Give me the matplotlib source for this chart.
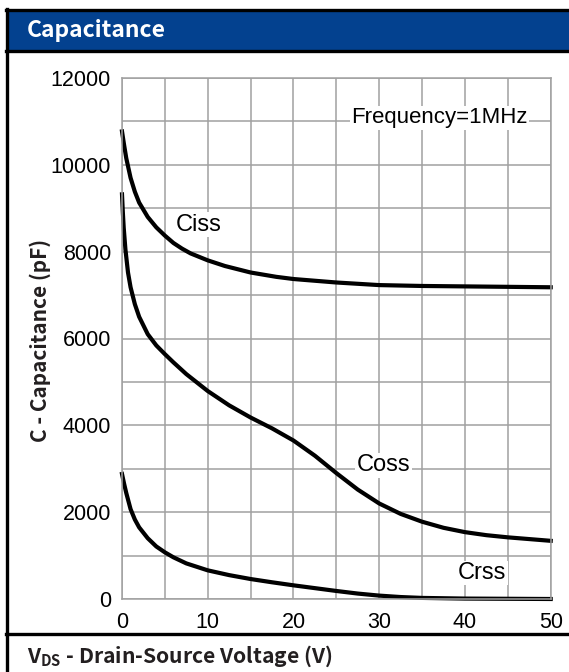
import matplotlib
matplotlib.use("Agg")
import matplotlib.pyplot as plt
from matplotlib.patches import Rectangle
from matplotlib.lines import Line2D

# values (V_DS in volts, capacitance in pF)
v_ciss = [0, 0.25, 0.5, 1, 1.5, 2, 3, 4, 5, 6, 7, 8, 10, 12, 15, 18, 20, 25, 30, 35, 40, 45, 50]
ciss = [10770, 10450, 10150, 9700, 9380, 9130, 8800, 8560, 8370, 8200, 8070, 7960, 7800, 7670,
        7520, 7420, 7370, 7290, 7230, 7210, 7200, 7190, 7180]

v_coss = [0, 0.1, 0.2, 0.4, 0.7, 1, 1.5, 2, 3, 4, 5, 6, 7.5, 10, 12.5, 15, 17.5, 20, 22.5, 25,
          27.5, 30, 32.5, 35, 37.5, 40, 42.5, 45, 47.5, 50]
coss = [9320, 8900, 8550, 8050, 7520, 7180, 6790, 6500, 6100, 5840, 5640, 5450, 5180, 4790, 4460,
        4180, 3930, 3650, 3300, 2900, 2520, 2200, 1960, 1780, 1640, 1540, 1470, 1420, 1380, 1340]

v_crss = [0, 0.25, 0.5, 1, 1.5, 2, 3, 4, 5, 6, 7.5, 10, 12.5, 15, 17.5, 20, 22.5, 25, 27.5, 30,
          32.5, 35, 40, 45, 50]
crss = [2880, 2650, 2440, 2070, 1830, 1650, 1400, 1210, 1075, 960, 820, 660, 550, 460, 385, 315,
        250, 185, 125, 78, 45, 25, 10, 5, 0]

x_ticks = [0, 10, 20, 30, 40, 50]
y_ticks = [0, 2000, 4000, 6000, 8000, 10000, 12000]

title = "Capacitance"
x_label = r"V$_{\mathregular{DS}}$ - Drain-Source Voltage (V)"
y_label = "C - Capacitance (pF)"
freq_note = "Frequency=1MHz"

W, H = 569, 672
fig = plt.figure(figsize=(W / 100, H / 100), dpi=100)

def fx(px):
    return px / W

def fy(py):
    return 1 - py / H

# header band and frame
fig.add_artist(Rectangle((fx(6), fy(50)), fx(W), fy(10) - fy(50),
                         transform=fig.transFigure, facecolor="#03418F", edgecolor="none"))
frame = dict(transform=fig.transFigure, color="black", linewidth=2.4)
fig.add_artist(Line2D([fx(6), 1], [fy(9.5), fy(9.5)], **frame))
fig.add_artist(Line2D([fx(6), 1], [fy(50.5), fy(50.5)], **frame))
fig.add_artist(Line2D([fx(6), 1], [fy(633.5), fy(633.5)], **frame))
fig.add_artist(Line2D([fx(6.5), fx(6.5)], [0, fy(9)], **frame))

fam = ["Noto Sans CJK SC", "DejaVu Sans"]
fig.text(fx(27), fy(30), title, color="white", fontsize=16.5, fontweight="bold",
         family=fam, va="center", ha="left")
fig.text(fx(27), fy(656), x_label, color="#231F20", fontsize=15.2, fontweight="bold",
         family=fam, va="center", ha="left")
fig.text(fx(40), fy(340), y_label, color="#231F20", fontsize=15, fontweight="bold",
         family=fam, va="center", ha="center", rotation=90)

ax = fig.add_axes([fx(122), fy(599), fx(550.7) - fx(122), fy(78) - fy(599)])
ax.set_xlim(0, 50)
ax.set_ylim(0, 12000)
ax.set_axisbelow(True)
ax.set_xticks(x_ticks)
ax.set_xticks(range(0, 51, 5), minor=True)
ax.set_yticks(y_ticks)
ax.set_yticks(range(0, 12001, 1000), minor=True)
ax.grid(True, which="both", color="#A0A0A0", linewidth=1.1)
ax.tick_params(which="both", length=0)
ax.tick_params(axis="x", pad=9)
ax.tick_params(axis="y", pad=8)
for lab in ax.get_xticklabels() + ax.get_yticklabels():
    lab.set_family("Liberation Sans")
    lab.set_fontsize(15.5)
for s in ax.spines.values():
    s.set_color("#A0A0A0")
    s.set_linewidth(1.1)

for v, c in [(v_ciss, ciss), (v_coss, coss), (v_crss, crss)]:
    ax.plot(v, c, color="black", linewidth=3, solid_joinstyle="round", clip_on=False)

box = dict(facecolor="white", edgecolor="none", pad=1)
lbl = dict(family="Liberation Sans", fontsize=17, ha="center", va="center", bbox=box)
ax.text(9, 8620, "Ciss", **lbl)
ax.text(30.5, 3080, "Coss", **lbl)
ax.text(42, 600, "Crss", **lbl)
ax.text(37, 11080, freq_note, **dict(lbl, fontsize=16))

fig.savefig("out.png", dpi=100)
